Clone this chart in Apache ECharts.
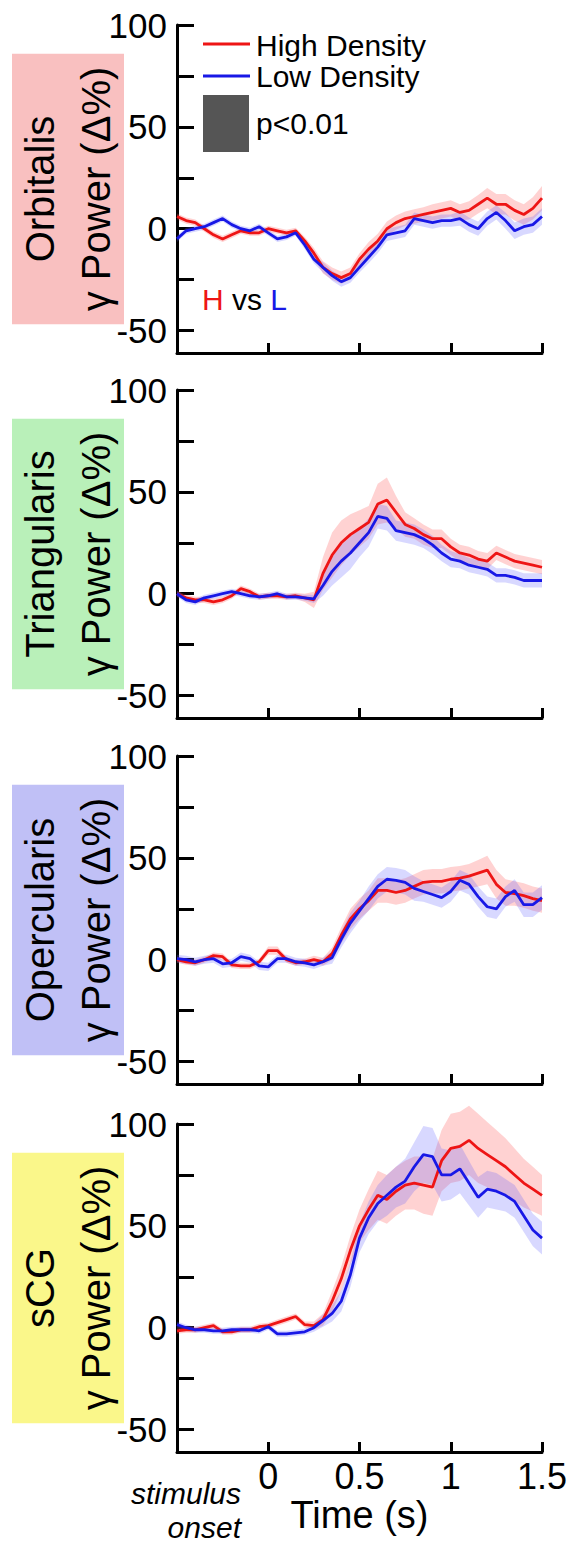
<!DOCTYPE html>
<html><head><meta charset="utf-8">
<script src="https://cdn.jsdelivr.net/npm/echarts@6/dist/echarts.min.js"></script>
<style>html,body{margin:0;padding:0;background:#fff}#c{width:572px;height:1546px}</style>
</head><body><div id="c"></div>
<script>
// ---- data ----
const time = [-0.5,-0.45,-0.4,-0.35,-0.3,-0.25,-0.2,-0.15,-0.1,-0.05,0,0.05,0.1,0.15,0.2,0.25,0.3,0.35,0.4,0.45,0.5,0.55,0.6,0.65,0.7,0.75,0.8,0.85,0.9,0.95,1,1.05,1.1,1.15,1.2,1.25,1.3,1.35,1.4,1.45,1.5];
const regions = ['Orbitalis','Triangularis','Opercularis','sCG'];
const yTickValues = [-50,-25,0,25,50,75,100];
const yLabelValues = [-50,0,50,100];
const xTickValues = [0,0.5,1,1.5];

const orbHigh = [6,4,3,0,-3,-5,-3,-1,-2,-2,0,-1,-2,-1,-6,-12,-19,-22,-24,-22,-15,-10,-6,0,3,5,6,7,8,9,10,8,9,12,15,12,12,9,7,10,15];
const orbLow  = [-5,-1,0,1,3,5,2,0,-1,1,-2,-5,-4,-2,-8,-15,-19,-23,-26,-24,-19,-14,-9,-3,-2,-1,5,4,3,4,4,5,2,0,5,8,4,-1,1,2,6];
const orbHighSem = [1.5,1.5,1.5,1.5,1.5,1.5,1.5,1.5,1.5,1.5,1.5,1.5,1.5,1.5,2,2.5,3,3,3,3,3,3.5,3.5,3.5,3.5,3.5,3.5,3.5,4,4,4,4,4.5,4.5,5,5,5,5,5,5.5,6];
const orbLowSem  = [1.5,1.5,1.5,1.5,1.5,1.5,1.5,1.5,1.5,1.5,1.5,1.5,1.5,1.5,2,2,2.5,2.5,2.5,2.5,2.5,3,3,3,3,3,3,3,3,3,3,3.5,3.5,3.5,3.5,3.5,4,4,4,4,4];

const triHigh = [0,-2,-3,-3,-4,-3,-1,2.5,1,-1.5,-1,-1,-1.5,-1,-2,-3,10,19,25,29,32,35,44,46,40,34,32,29,27,27,23,20,19,17,16,20,18,16,15,14,13];
const triLow  = [0,-3,-4,-2,-1,0,1,0,-1,-1.5,-1,0,-1.5,-1.5,-2,-2.5,4,11,16,20,25,30,38,37,31,30,29,27,24,20,17,16,14,13,12,9,9,8,6.5,6.5,6.5];
const triHighSem = [1.5,1.5,1.5,1.5,1.5,1.5,1.5,1.5,1.5,1.5,1.5,1.5,1.5,1.5,2,4,8,11,11,10,9,8,10,11,8,6,5,5,4.5,4.5,4,4,4,4,4,3.5,3.5,3.5,3.5,3.5,3.5];
const triLowSem  = [1.5,1.5,1.5,1.5,1.5,1.5,1.5,1.5,1.5,1.5,1.5,1.5,1.5,1.5,1.5,2,5,7,8,8,7,7,6,6,5,5,5,4.5,4.5,4,4,3.5,3.5,3.5,3.5,3.5,3.5,3.5,3.5,3.5,3.5];

const opeHigh = [0,-1,-1.5,0,2,1.5,-2.5,-3,-3,-1,4.5,4.5,0,-1.5,-1,0,-1,3,12,20,25,29,34,34,33,34,36,38,38.5,38.5,39.5,40,41,42.5,44,37,33,32.5,31.5,30,29];
const opeLow  = [0.5,0,-1,0,0.5,-2,-1.5,1.5,0.5,-3,-3.5,0.5,0.5,-1,-1.5,-2.5,-1,1,10,18,24,30,36,39.5,39,38,35,33.5,32,30.5,33.5,39,37,31,26,25,31,34,27,27,30.5];
const opeHighSem = [1.5,1.5,1.5,1.5,1.5,1.5,1.5,1.5,1.5,1.5,2,2,1.5,1.5,1.5,2,2,3,4,5,5,5,6,6,6,6,6,6,6,6,6,6,6,6.5,7,7,6.5,6,6,6,6];
const opeLowSem  = [2,2,2,2,2,2,2,2,2,2,2,2,2,2,2,2,2,3,4,5,5,6,6,6,6,6,6,5,5,5,5,5,5,5,5,5,5,5.5,6,6,6];

const scgHigh = [-1.5,-1,-1,0,1,-2,-2,-1,-1,0.5,1,2.5,4,5.5,1.5,1,4,13,24,38,50,58,65,63,67,70,71,70,69,82,88,89,92,88,85,82,79,75,71,68,65];
const scgLow  = [1.5,0,-1,-1,-1.5,-1.5,-1,-1,-1,-1.5,0.5,-3,-3,-2.5,-2,0,3.5,7,13,26,44,54,61,65,69,72,79,85,84,75,75,78,71,64,68,67,65,62,55,48,44];
const scgHighSem = [1.5,1.5,1.5,1.5,1.5,1.5,1.5,1.5,1.5,1.5,1.5,1.5,1.5,1.5,1.5,2,3,5,6,7,8,10,12,12,12,12,13,14,14,15,17,17,17,17,16,15,14,13,12,11,10];
const scgLowSem  = [1.5,1.5,1.5,1.5,1.5,1.5,1.5,1.5,1.5,1.5,1.5,1.5,1.5,1.5,1.5,2,3,4,5,6,7,8,9,10,10,11,12,14,14,13,12,12,11,10,9,9,8,8,8,8,8];

// ---- styling / layout ----
const FF = '"Liberation Sans", Arial, Helvetica, sans-serif';
const highColor = '#ee1515';
const lowColor = '#1818e6';
const highBand = 'rgba(255,80,80,0.26)';
const lowBand = 'rgba(90,90,255,0.24)';
const boxColors = ['#f9c0c0', '#b9f0b9', '#c0c0f6', '#faf78a'];
const tops = [25, 390, 756, 1124];
const panels = [
  {high: orbHigh, low: orbLow, hs: orbHighSem, ls: orbLowSem},
  {high: triHigh, low: triLow, hs: triHighSem, ls: triLowSem},
  {high: opeHigh, low: opeLow, hs: opeHighSem, ls: opeLowSem},
  {high: scgHigh, low: scgLow, hs: scgHighSem, ls: scgLowSem}
];

function pairs(vals){ return time.map((t,k)=>[t, vals[k]]); }
function band(i, mean, sem, color){
  return {
    type:'custom', xAxisIndex:i, yAxisIndex:i, clip:false, silent:true,
    data:[[time[0], mean[0]]],
    renderItem:function(params, api){
      const up = time.map((t,k)=>api.coord([t, mean[k]+sem[k]]));
      const lo = time.map((t,k)=>api.coord([t, mean[k]-sem[k]])).reverse();
      return {type:'polygon', shape:{points: up.concat(lo)}, style:{fill: color}};
    }
  };
}
function line(i, vals, color){
  return {type:'line', xAxisIndex:i, yAxisIndex:i, data:pairs(vals), showSymbol:false, symbol:'none',
    clip:false, silent:true, lineStyle:{color:color, width:2.8}, itemStyle:{color:color}};
}

const series = [];
panels.forEach((p,i)=>{
  series.push(band(i, p.high, p.hs, highBand));
  series.push(band(i, p.low, p.ls, lowBand));
  series.push(line(i, p.high, highColor));
  series.push(line(i, p.low, lowColor));
});

const axisLineStyle = {color:'#000', width:3};
const option = {
  animation:false,
  textStyle:{fontFamily:FF},
  grid: tops.map(t=>({left:177, right:30, top:t, height:328, containLabel:false, outerBoundsMode:'none'})),
  xAxis: tops.map((t,i)=>({
    type:'value', gridIndex:i, min:-0.5, max:1.5,
    axisLine:{show:true, onZero:false, lineStyle:axisLineStyle},
    axisTick:{show:true, inside:true, length:10, lineStyle:axisLineStyle, customValues:xTickValues},
    axisLabel:{show:i===3, customValues:xTickValues, color:'#000', fontSize:36, fontFamily:FF, margin:6},
    splitLine:{show:false},
    name: i===3 ? 'Time (s)' : '', nameLocation:'middle', nameGap:44, nameMoveOverlap:false,
    nameTextStyle:{fontSize:38, color:'#000', fontFamily:FF}
  })),
  yAxis: tops.map((t,i)=>({
    type:'value', gridIndex:i, min:-61, max:100,
    axisLine:{show:true, onZero:false, lineStyle:axisLineStyle},
    axisTick:{show:true, inside:true, length:17, lineStyle:axisLineStyle, customValues:yTickValues},
    axisLabel:{customValues:yLabelValues, color:'#000', fontSize:35, fontFamily:FF, margin:10},
    splitLine:{show:false},
    name: regions[i] + '\nγ Power (Δ%)', nameLocation:'middle', nameRotate:90, nameGap:53, nameMoveOverlap:false,
    nameTextStyle:{fontSize:40, lineHeight:56, color:'#000', fontFamily:FF,
      backgroundColor:boxColors[i], padding:[0,13,0,13], width:241, align:'center'}
  })),
  series: series,
  graphic: [
    {type:'line', shape:{x1:203,y1:44,x2:250,y2:44}, style:{stroke:highColor, lineWidth:3}},
    {type:'text', x:256, y:45, style:{text:'High Density', fontSize:30, lineHeight:30, fontFamily:FF, fill:'#000', verticalAlign:'middle'}},
    {type:'line', shape:{x1:203,y1:76,x2:250,y2:76}, style:{stroke:lowColor, lineWidth:3}},
    {type:'text', x:256, y:76, style:{text:'Low Density', fontSize:30, lineHeight:30, fontFamily:FF, fill:'#000', verticalAlign:'middle'}},
    {type:'rect', shape:{x:203,y:95,width:46,height:57}, style:{fill:'#555555'}},
    {type:'text', x:256, y:123, style:{text:'p<0.01', fontSize:30, lineHeight:30, fontFamily:FF, fill:'#000', verticalAlign:'middle'}},
    {type:'text', x:202, y:299, style:{text:'{h|H} vs {l|L}', fontSize:30, fontFamily:FF, fill:'#000', verticalAlign:'middle',
      rich:{h:{fill:highColor, fontSize:30, fontFamily:FF}, l:{fill:lowColor, fontSize:30, fontFamily:FF}}}},
    {type:'text', x:241, y:1493, style:{text:'stimulus', fontSize:30, lineHeight:30, fontStyle:'italic', fontFamily:FF, fill:'#000', align:'right', verticalAlign:'middle'}},
    {type:'text', x:241, y:1527, style:{text:'onset', fontSize:30, lineHeight:30, fontStyle:'italic', fontFamily:FF, fill:'#000', align:'right', verticalAlign:'middle'}}
  ]
};
const chart = echarts.init(document.getElementById('c'), null, {renderer:'svg', width:572, height:1546});
chart.setOption(option);
</script></body></html>
